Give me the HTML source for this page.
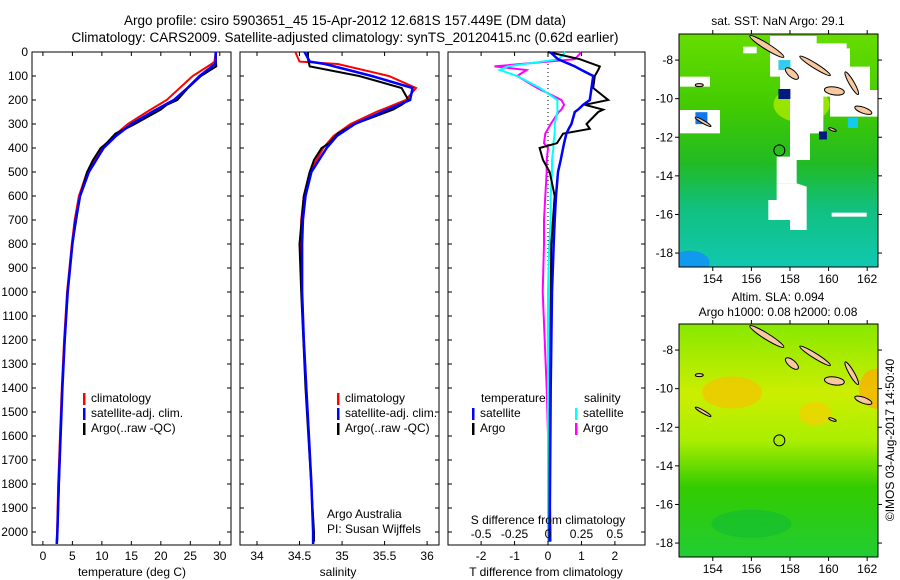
<!DOCTYPE html>
<html><head><meta charset="utf-8"><style>
body{margin:0;background:#fff;}
svg{display:block;font-family:"Liberation Sans",sans-serif;}
text{font-size:12px;fill:#000;}
</style></head><body>
<svg id="chart" width="900" height="580" viewBox="0 0 900 580" xmlns="http://www.w3.org/2000/svg">
<text x="345" y="25" text-anchor="middle" style="font-size:13.5px">Argo profile: csiro 5903651_45 15-Apr-2012 12.681S 157.449E (DM data)</text>
<text x="345" y="42" text-anchor="middle" style="font-size:13.5px">Climatology: CARS2009. Satellite-adjusted climatology: synTS_20120415.nc (0.62d earlier)</text>
<g id="p1"></g>
<g id="p2"></g>
<g id="p3"></g>
<g id="m1"></g>
<g id="m2"></g>
<text transform="translate(894,440) rotate(-90)" text-anchor="middle">©IMOS 03-Aug-2017 14:50:40</text>
</svg>
<script>
// ---- data ----
const depthTicks=[0,100,200,300,400,500,600,700,800,900,1000,1100,1200,1300,1400,1500,1600,1700,1800,1900,2000];
const tempTicks=[0,5,10,15,20,25,30];
const salTicks=[34,34.5,35,35.5,36];
const tdiffTicks=[-2,-1,0,1,2];
const sdiffTicks=[-0.5,-0.25,0,0.25,0.5];
const sdiffTickLabels=["-0.5","-0.25","0","0.25","0.5"];
const climDepth=[0,40,50,100,150,200,250,300,350,400,500,600,700,800,1000,1200,1400,1600,1800,2000,2050];
const climTemp=[29.3,29.1,28.6,25.4,23.2,21.0,17.6,14.4,12.0,10.0,7.5,6.1,5.4,4.9,4.1,3.6,3.2,2.9,2.6,2.4,2.3];
const satTemp=[29.3,29.3,29.2,26.6,24.5,22.2,18.5,15.0,12.4,10.3,7.8,6.3,5.55,5.0,4.2,3.7,3.3,3.0,2.7,2.45,2.35];
const argoDepth=[0,30,60,100,150,200,220,240,300,320,340,380,400,450,500,600,800,1000,1400,2000,2040];
const argoTemp=[29.3,29.3,29.4,26.8,24.6,22.8,21.0,20.0,15.6,14.0,12.3,10.8,9.8,8.5,7.5,6.3,5.0,4.15,3.25,2.45,2.4];
const climSal=[34.45,34.5,34.95,35.55,35.87,35.75,35.4,35.1,34.9,34.78,34.62,34.55,34.52,34.52,34.53,34.55,34.58,34.61,34.64,34.66,34.66];
const satSal=[34.56,34.62,34.8,35.35,35.83,35.8,35.47,35.15,34.94,34.82,34.64,34.57,34.54,34.53,34.53,34.55,34.58,34.61,34.64,34.66,34.66];
const argoSal=[34.6,34.6,34.62,35.2,35.7,35.78,35.7,35.6,35.15,35.05,34.95,34.85,34.76,34.67,34.62,34.55,34.5,34.52,34.57,34.67,34.67];
const diffDepth=[0,30,60,75,100,150,200,220,240,250,300,320,340,380,400,450,500,600,700,800,1000,1400,2000,2040];
const tdiffSat=[0.06,0.3,0.8,1.0,1.35,1.3,1.25,1.05,0.9,0.8,0.7,0.62,0.55,0.48,0.45,0.38,0.3,0.24,0.2,0.17,0.12,0.08,0.05,0.05];
const tdiffArgo=[0,0.95,1.55,1.5,1.4,1.35,1.8,1.1,1.65,1.5,1.15,1.25,0.45,0.27,-0.25,-0.15,0.05,0.2,0.15,0.1,0.08,0.06,0.04,0.04];
const sdiffSat=[0.13,0.08,-0.3,-0.36,-0.23,-0.06,0.07,0.07,0.07,0.07,0.05,0.05,0.05,0.04,0.04,0.03,0.03,0.02,0.02,0.01,0.0,0.0,0.0,0.0];
const sdiffArgo=[0.25,0.2,-0.4,-0.16,-0.23,-0.08,0.1,0.12,0.1,0.08,0.02,0.0,-0.02,-0.03,0.0,-0.01,-0.01,-0.02,-0.03,-0.03,-0.04,-0.01,0.02,0.02];
const lonTicks=[154,156,158,160,162];
const latTicks=[-8,-10,-12,-14,-16,-18];
const argoLon=157.449, argoLat=-12.681;

const NS="http://www.w3.org/2000/svg";
function mk(parent,tag,attrs,txt){const e=document.createElementNS(NS,tag);for(const k in attrs)e.setAttribute(k,attrs[k]);if(txt!==undefined)e.textContent=txt;parent.appendChild(e);return e;}
const pTop=52,pBot=545;
const yD=d=>pTop+d*0.24;
function panel(g,x0,x1,xmin,xmax,showY){
  const sx=v=>x0+(v-xmin)/(xmax-xmin)*(x1-x0);
  const r=mk(g,'rect',{x:x0,y:pTop,width:x1-x0,height:pBot-pTop,fill:'none',stroke:'#000','stroke-width':1});
  
  
  depthTicks.forEach(d=>{
    mk(g,'line',{x1:x0,x2:x0+4,y1:yD(d),y2:yD(d),stroke:'#000'});
    mk(g,'line',{x1:x1-4,x2:x1,y1:yD(d),y2:yD(d),stroke:'#000'});
    if(showY){const t=mk(g,'text',{x:x0-4,y:yD(d)+4,'text-anchor':'end'},String(d));
      
      }
  });
  return sx;
}
function line(g,sx,depths,vals,color,name,w){
  const pts=depths.map((d,i)=>sx(vals[i]).toFixed(1)+','+yD(d).toFixed(1)).join(' ');
  const p=mk(g,'polyline',{points:pts,fill:'none',stroke:color,'stroke-width':w||2});
  
  
}
function xticks(g,sx,ticks,labels){
  ticks.forEach((v,i)=>{
    mk(g,'line',{x1:sx(v),x2:sx(v),y1:pBot,y2:pBot-4,stroke:'#000'});
    mk(g,'line',{x1:sx(v),x2:sx(v),y1:pTop,y2:pTop+4,stroke:'#000'});
    const t=mk(g,'text',{x:sx(v),y:560,'text-anchor':'middle'},labels?labels[i]:String(v));
    
    
  });
}
function legend(g,x,y,items){
  items.forEach((it,i)=>{
    mk(g,'rect',{x:x,y:y+i*15-9,width:2.5,height:12,fill:it[1]});
    const t=mk(g,'text',{x:x+8,y:y+i*15},it[0]);
    
    
  });
}
// panel 1
const g1=document.getElementById('p1');
const sx1=panel(g1,32,231,-1.85,31.9,true);
line(g1,sx1,climDepth,climTemp,'#ff0000','temp-climatology-line');
line(g1,sx1,argoDepth,argoTemp,'#000000','temp-argo-line');
line(g1,sx1,climDepth,satTemp,'#0000ff','temp-satellite-line',2.5);
xticks(g1,sx1,tempTicks);
mk(g1,'text',{x:132,y:576,'text-anchor':'middle'},'temperature (deg C)');
legend(g1,83,402,[['climatology','#ff0000'],['satellite-adj. clim.','#0000ff'],['Argo(..raw -QC)','#000']]);
// panel 2
const g2=document.getElementById('p2');
const sx2=panel(g2,240,439,33.8,36.14,false);
line(g2,sx2,climDepth,climSal,'#ff0000','sal-climatology-line');
line(g2,sx2,argoDepth,argoSal,'#000000','sal-argo-line');
line(g2,sx2,climDepth,satSal,'#0000ff','sal-satellite-line',2.5);
xticks(g2,sx2,salTicks);
mk(g2,'text',{x:338,y:576,'text-anchor':'middle'},'salinity');
legend(g2,337,402,[['climatology','#ff0000'],['satellite-adj. clim.','#0000ff'],['Argo(..raw -QC)','#000']]);
mk(g2,'text',{x:327,y:518},'Argo Australia');
mk(g2,'text',{x:327,y:533},'PI: Susan Wijffels');
// panel 3
const g3=document.getElementById('p3');
const sx3=panel(g3,448,645,-2.99,2.9,false);
const sxS=v=>sx3(v*4);
mk(g3,'line',{x1:sx3(0),x2:sx3(0),y1:pTop,y2:pBot,stroke:'#000','stroke-dasharray':'1,3'});
line(g3,sxS,diffDepth,sdiffArgo,'#ff00ff','sdiff-argo-line');
line(g3,sxS,diffDepth,sdiffSat,'#00ffff','sdiff-satellite-line');
line(g3,sx3,diffDepth,tdiffArgo,'#000000','tdiff-argo-line');
line(g3,sx3,diffDepth,tdiffSat,'#0000ff','tdiff-satellite-line',2.5);
xticks(g3,sx3,tdiffTicks);
sdiffTicks.forEach((v,i)=>{const t=mk(g3,'text',{x:sxS(v),y:538,'text-anchor':'middle'},sdiffTickLabels[i]);
  
  });
mk(g3,'text',{x:548,y:524,'text-anchor':'middle'},'S difference from climatology');
mk(g3,'text',{x:546,y:576,'text-anchor':'middle'},'T difference from climatology');
mk(g3,'text',{x:481,y:402},'temperature');
mk(g3,'text',{x:584,y:402},'salinity');
legend(g3,472,417,[['satellite','#0000ff'],['Argo','#000']]);
legend(g3,575,417,[['satellite','#00ffff'],['Argo','#ff00ff']]);

// maps
function map(g,y0,kind){
  const x0=679,x1=878,y1=y0+233;
  const lx=lon=>x0+(lon-152.25)*19.3;
  const ly=lat=>y0+(-6.65-lat)*19.3;
  const id='grad'+kind;
  const defs=mk(g,'defs',{});
  const lg=mk(defs,'linearGradient',{id:id,x1:0,y1:0,x2:0,y2:1});
  const stops=kind==='sst'?[[0,'#66dd00'],[0.3,'#44cc00'],[0.55,'#22bb22'],[0.75,'#11c080'],[1,'#11c8b0']]:[[0,'#88e800'],[0.3,'#ccee00'],[0.5,'#aaee00'],[0.7,'#33cc00'],[1,'#22cc33']];
  stops.forEach(s=>mk(lg,'stop',{offset:s[0],'stop-color':s[1]}));
  mk(g,'rect',{x:x0,y:y0,width:x1-x0,height:y1-y0,fill:'url(#'+id+')'});
  const clip='clip'+kind;
  const cp=mk(defs,'clipPath',{id:clip});mk(cp,'rect',{x:x0,y:y0,width:x1-x0,height:y1-y0});
  const inner=mk(g,'g',{'clip-path':'url(#'+clip+')'});
  if(kind==='sst'){
    mk(inner,'ellipse',{cx:lx(158.6),cy:ly(-10.3),rx:28,ry:18,fill:'#bbee00',opacity:0.7});
    mk(inner,'ellipse',{cx:lx(152.8),cy:ly(-18.5),rx:20,ry:12,fill:'#1199ee'});
    const wp=[[360,108],[500,108],[500,130],[590,130],[590,145],[600,145],[600,200],[660,200],[660,270],[685,270],[685,350],[540,350],[540,290],[520,290],[520,400],[480,400],[480,480],[440,480],[440,550],[380,550],[380,470],[420,470],[420,280],[390,280],[390,230],[360,230]];
    const w2=[[440,550],[470,560],[470,690],[420,690],[420,660],[355,660],[355,600],[380,600],[380,550]];
    [wp,w2].forEach(p=>mk(inner,'polygon',{points:p.map(q=>(650+q[0]/3)+','+(q[1]/3)).join(' '),fill:'#fff'}));
    [[90,230,90,30],[90,330,120,70],[545,638,105,12],[280,140,40,20]].forEach(r=>mk(inner,'rect',{x:650+r[0]/3,y:r[1]/3,width:r[2]/3,height:r[3]/3,fill:'#fff'}));
    mk(inner,'rect',{x:lx(157.4),y:ly(-9.5),width:12,height:10,fill:'#001a80'});
    mk(inner,'rect',{x:lx(157.4),y:ly(-8),width:12,height:10,fill:'#33ccee'});
    mk(inner,'rect',{x:lx(153.1),y:ly(-10.7),width:12,height:12,fill:'#1177ee'});
    mk(inner,'rect',{x:lx(161),y:ly(-11),width:10,height:10,fill:'#11ccee'});
    mk(inner,'rect',{x:lx(159.5),y:ly(-11.7),width:8,height:8,fill:'#001a80'});
  } else {
    mk(inner,'ellipse',{cx:lx(155),cy:ly(-10.2),rx:30,ry:16,fill:'#ffbb00',opacity:0.6});
    mk(inner,'ellipse',{cx:lx(162.5),cy:ly(-10),rx:18,ry:20,fill:'#ffaa00',opacity:0.7});
    mk(inner,'ellipse',{cx:lx(159.3),cy:ly(-11.3),rx:16,ry:12,fill:'#ffcc00',opacity:0.6});
    mk(inner,'ellipse',{cx:lx(156),cy:ly(-17),rx:40,ry:14,fill:'#11bb33',opacity:0.6});
  }
  // islands
  [[156.8,-7.3,20,3,32],[158.1,-8.7,8,3.5,40],[159.3,-8.3,18,2.5,32],[160.3,-9.6,10,4,8],[161.2,-9.2,13,2.5,60],[161.8,-10.6,9,3,20],[153.3,-9.3,4,1.5,0],[153.5,-11.2,9,1.5,30],[160.2,-11.6,4,1.2,20]].forEach(s=>{
    const e=mk(inner,'ellipse',{cx:lx(s[0]),cy:ly(s[1]),rx:s[2],ry:s[3],fill:'#f7c9a0',stroke:'#000','stroke-width':1,transform:'rotate('+s[4]+' '+lx(s[0])+' '+ly(s[1])+')'});
    
    
  });
  const c=mk(g,'circle',{cx:lx(argoLon),cy:ly(argoLat),r:5.5,fill:'none',stroke:'#000'});
  
  
  mk(g,'rect',{x:x0,y:y0,width:x1-x0,height:y1-y0,fill:'none',stroke:'#000'});
  lonTicks.forEach(v=>{mk(g,'line',{x1:lx(v),x2:lx(v),y1:y1,y2:y1+4,stroke:'#000'});mk(g,'line',{x1:lx(v),x2:lx(v),y1:y0,y2:y0-4,stroke:'#000'});
    const t=mk(g,'text',{x:lx(v),y:y1+16,'text-anchor':'middle'},String(v));
    
    });
  latTicks.forEach(v=>{mk(g,'line',{x1:x0-4,x2:x0,y1:ly(v),y2:ly(v),stroke:'#000'});mk(g,'line',{x1:x1,x2:x1+4,y1:ly(v),y2:ly(v),stroke:'#000'});
    const t=mk(g,'text',{x:x0-6,y:ly(v)+4,'text-anchor':'end'},String(v));
    
    });
}
const m1=document.getElementById('m1');
map(m1,34,'sst');
mk(m1,'text',{x:778,y:25,'text-anchor':'middle'},'sat. SST: NaN Argo: 29.1');
const m2=document.getElementById('m2');
map(m2,324,'sla');
mk(m2,'text',{x:778,y:301,'text-anchor':'middle'},'Altim. SLA: 0.094');
mk(m2,'text',{x:778,y:316,'text-anchor':'middle'},'Argo h1000: 0.08 h2000: 0.08');
</script>
</body></html>
